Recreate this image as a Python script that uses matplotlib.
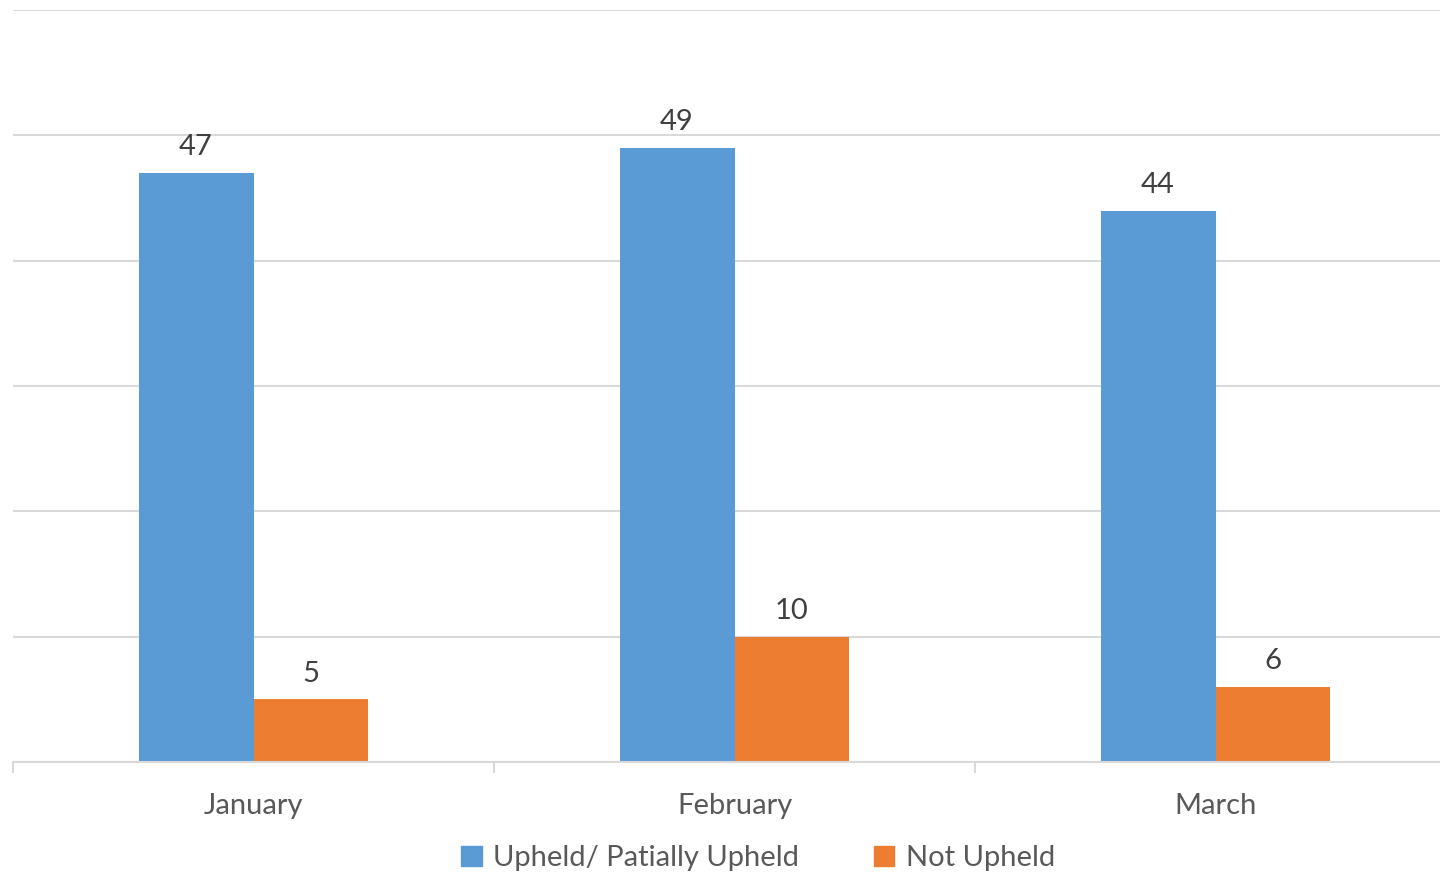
import numpy as np
import matplotlib.pyplot as plt
from matplotlib.patches import Patch

months = ['January', 'February', 'March']
upheld = [47, 49, 44]
not_upheld = [5, 10, 6]
series_names = ['Upheld/ Patially Upheld', 'Not Upheld']

blue = '#5B9BD5'
orange = '#ED7D31'
grid_col = '#D9D9D9'

plt.rcParams['font.family'] = ['Lato', 'DejaVu Sans']

W, H = 1440, 877
fig = plt.figure(figsize=(W / 100, H / 100), dpi=100)
# axes runs from -0.5 to 2.5 in category units; right edge sits just past the canvas
ax = fig.add_axes([13 / W, (H - 762) / H, (1456 - 13) / W, (762 - 10) / H])

x = np.arange(len(months))
bw = 0.239
b1 = ax.bar(x - bw / 2, upheld, bw, color=blue, zorder=2)
b2 = ax.bar(x + bw / 2, not_upheld, bw, color=orange, zorder=2)

for bars in (b1, b2):
    for r in bars:
        ax.annotate(f'{int(r.get_height())}', (r.get_x() + r.get_width() / 2, r.get_height()),
                    xytext=(0, 9), textcoords='offset points', ha='center', va='bottom',
                    fontsize=21, color='#404040', zorder=3)

ax.set_xlim(-0.5, 2.5)
ax.set_ylim(0, 60)
ax.set_yticks(np.arange(0, 61, 10))
ax.yaxis.grid(True, color=grid_col, linewidth=1.5, zorder=0)
ax.tick_params(axis='y', left=False, labelleft=False)

ax.set_xticks(x)
ax.set_xticklabels(months, fontsize=21, color='#595959')
ax.tick_params(axis='x', which='major', length=0, pad=22)
ax.set_xticks([-0.5, 0.5, 1.5, 2.5], minor=True)
ax.tick_params(axis='x', which='minor', length=8, width=1.5, color=grid_col)

for s in ('top', 'right', 'left'):
    ax.spines[s].set_visible(False)
ax.spines['bottom'].set_color(grid_col)
ax.spines['bottom'].set_linewidth(1.5)

handles = [Patch(color=blue), Patch(color=orange)]
fig.legend(handles, series_names, loc='center', bbox_to_anchor=(758 / W, 1 - 858 / H),
           ncol=2, frameon=False, fontsize=21, labelcolor='#595959',
           handlelength=0.7, handleheight=0.7, handletextpad=0.4, columnspacing=2.55)

fig.savefig('out.png', dpi=100)
